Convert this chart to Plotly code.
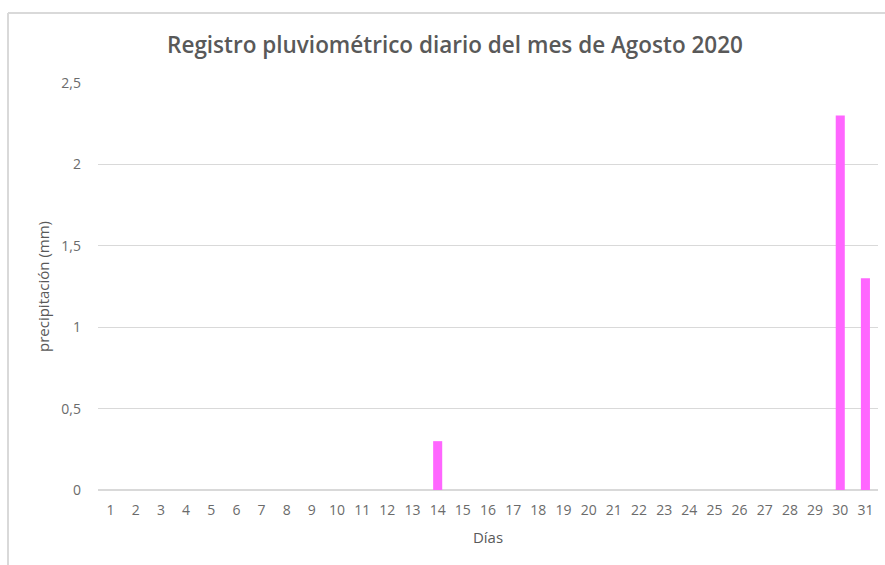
import plotly.graph_objects as go

days = [str(d) for d in range(1, 32)]
rain = [0]*31
rain[13] = 0.3
rain[29] = 2.3
rain[30] = 1.3
y_ticks = [0, 0.5, 1, 1.5, 2, 2.5]
y_labels = ["0", "0,5", "1", "1,5", "2", "2,5"]

fig = go.Figure(go.Bar(x=days, y=rain, marker=dict(color="#FF66FF", line=dict(width=0))))

W, H = 885, 565
L, R, T, B = 98, 7, 83, 75

fig.update_layout(
    width=W, height=H,
    margin=dict(l=L, r=R, t=T, b=B),
    paper_bgcolor="white", plot_bgcolor="white",
    bargap=0.64,
    showlegend=False,
    font=dict(family="Open Sans, Liberation Sans", color="#595959"),
    title=dict(text="Registro pluviométrico diario del mes de Agosto 2020",
               x=455/W, xanchor="center", y=1-45/H, yanchor="middle",
               font=dict(size=22.5, color="#595959", family="Open Sans", weight=600)),
    xaxis=dict(type="category", showgrid=False, showline=False, ticks="",
               tickfont=dict(size=14, color="#6b6b6b"),
               ticklabelstandoff=10,
               title=dict(text="Días", font=dict(size=15, color="#595959"), standoff=14)),
    yaxis=dict(range=[0, 2.5], tickvals=y_ticks, ticktext=y_labels,
               showgrid=True, gridcolor="#d9d9d9", gridwidth=1, zeroline=True,
               zerolinecolor="#d9d9d9", tickfont=dict(size=14, color="#6b6b6b"),
               ticklabelstandoff=16,
               title=dict(text="precipitación (mm)", font=dict(size=15, color="#595959"), standoff=8)),
)

# chart frame border (left and top)
fig.add_shape(type="line", xref="paper", yref="paper",
              x0=(8-L)/(W-L-R), x1=(8-L)/(W-L-R), y0=-B/(H-T-B), y1=(H-13-B)/(H-T-B),
              line=dict(color="#d9d9d9", width=2))
fig.add_shape(type="line", xref="paper", yref="paper",
              x0=(8-L)/(W-L-R), x1=(W-L)/(W-L-R), y0=(H-13-B)/(H-T-B), y1=(H-13-B)/(H-T-B),
              line=dict(color="#d9d9d9", width=2))

fig.write_html("out.html", config={"displayModeBar": False},
               post_script="document.body.style.margin='0';document.body.style.overflow='hidden';")
